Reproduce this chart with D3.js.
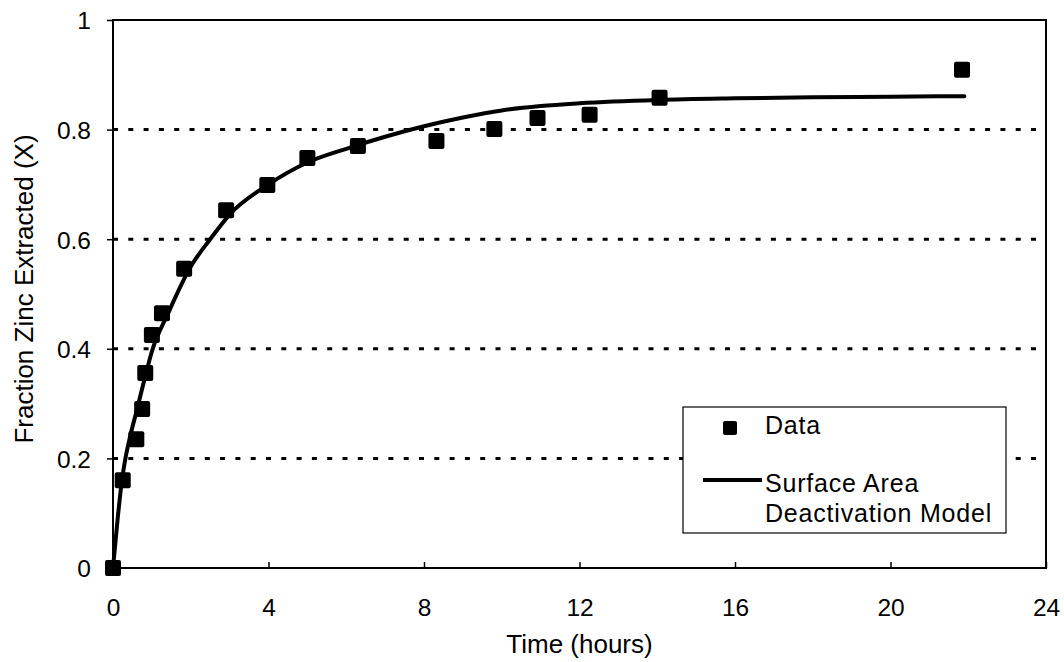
<!DOCTYPE html>
<html>
<head>
<meta charset="utf-8">
<script src="https://cdn.jsdelivr.net/npm/d3@7"></script>
<style>
  body { margin: 0; background: #fff; }
  text { font-family: "Liberation Sans", Arial, sans-serif; fill: #000; }
</style>
</head>
<body>
<svg id="chart" width="1064" height="662"></svg>
<script>
// measured data points (hours, fraction extracted)
var dataTime = [0, 0.25, 0.6, 0.75, 0.83, 1.0, 1.26, 1.83, 2.91, 3.97, 5.0, 6.3, 8.32, 9.81, 10.92, 12.26, 14.06, 21.84];
var dataX    = [0, 0.16, 0.235, 0.29, 0.356, 0.425, 0.465, 0.546, 0.653, 0.699, 0.748, 0.77, 0.779, 0.801, 0.821, 0.827, 0.858, 0.909];

// model curve
var modelTime = [0, 0.12, 0.23, 0.32, 0.44, 0.62, 0.83, 1.0, 1.42, 2, 2.5, 3, 4, 5, 6, 7, 8, 9, 10, 11, 12, 14, 16, 18, 20, 21.9];
var modelX    = [0, 0.09, 0.16, 0.2, 0.24, 0.29, 0.35, 0.395, 0.465, 0.55, 0.6, 0.645, 0.70, 0.74, 0.765, 0.787, 0.806, 0.822, 0.835, 0.843, 0.848, 0.854, 0.857, 0.859, 0.86, 0.861];

var xTicks = [0, 4, 8, 12, 16, 20, 24];
var yTicks = [0, 0.2, 0.4, 0.6, 0.8, 1];
var gridTicks = [0.2, 0.4, 0.6, 0.8];

var svg = d3.select("#chart"),
    margin = {top: 20, left: 113, bottom: 94, right: 18},
    width = +svg.attr("width"),
    height = +svg.attr("height");

var x = d3.scaleLinear().domain([0, 24]).range([margin.left, width - margin.right]);
var y = d3.scaleLinear().domain([0, 1]).range([height - margin.bottom, margin.top]);

// dotted gridlines
svg.append("g").selectAll("line")
    .data(gridTicks)
    .enter().append("line")
    .attr("x1", x(0)).attr("x2", x(24))
    .attr("y1", d => y(d)).attr("y2", d => y(d))
    .attr("stroke", "#000")
    .attr("stroke-width", 3)
    .attr("stroke-dasharray", "5,10.3");

// frame
svg.append("rect")
    .attr("x", x(0)).attr("y", y(1))
    .attr("width", x(24) - x(0)).attr("height", y(0) - y(1))
    .attr("fill", "none").attr("stroke", "#000").attr("stroke-width", 2);

// axes
var xAxis = svg.append("g")
    .attr("transform", `translate(0,${y(0)})`)
    .call(d3.axisBottom(x).tickValues(xTicks).tickSize(-6).tickPadding(31).tickFormat(d3.format("d")));
var yAxis = svg.append("g")
    .attr("transform", `translate(${x(0)},0)`)
    .call(d3.axisLeft(y).tickValues(yTicks).tickSize(6).tickPadding(16).tickFormat(d => d));

[xAxis, yAxis].forEach(function(a) {
    a.select(".domain").remove();
    a.selectAll(".tick line").attr("stroke", "#000").attr("stroke-width", 1.5);
    a.selectAll(".tick text").style("font-size", "24.5px").attr("fill", "#000");
});
yAxis.selectAll(".tick text").attr("dy", "0.36em");

// model line
var line = d3.line()
    .x((d, i) => x(modelTime[i]))
    .y(d => y(d))
    .curve(d3.curveMonotoneX);

svg.append("path")
    .datum(modelX)
    .attr("d", line)
    .attr("fill", "none")
    .attr("stroke", "#000")
    .attr("stroke-width", 4)
    .attr("stroke-linecap", "round");

// data squares
svg.append("g").selectAll("rect")
    .data(dataX)
    .enter().append("rect")
    .attr("x", (d, i) => x(dataTime[i]) - 8)
    .attr("y", d => y(d) - 8)
    .attr("width", 16).attr("height", 16)
    .attr("rx", 2)
    .attr("fill", "#000");

// legend
var legend = svg.append("g");
legend.append("rect")
    .attr("x", 683).attr("y", 407)
    .attr("width", 323).attr("height", 126)
    .attr("fill", "#fff").attr("stroke", "#000").attr("stroke-width", 1.2);
legend.append("rect")
    .attr("x", 723).attr("y", 421).attr("width", 14).attr("height", 14)
    .attr("rx", 2).attr("fill", "#000");
legend.append("line")
    .attr("x1", 703).attr("x2", 762).attr("y1", 480).attr("y2", 480)
    .attr("stroke", "#000").attr("stroke-width", 4);
var legendText = [["Data", 434], ["Surface Area", 492], ["Deactivation Model", 522]];
legend.selectAll("text.lbl")
    .data(legendText)
    .enter().append("text")
    .attr("class", "lbl")
    .attr("x", 765).attr("y", d => d[1])
    .style("font-size", "25px")
    .style("letter-spacing", "0.8px")
    .text(d => d[0]);

// axis titles
svg.append("text")
    .attr("x", (x(0) + x(24)) / 2).attr("y", 653)
    .attr("text-anchor", "middle")
    .style("font-size", "26px")
    .text("Time (hours)");

svg.append("text")
    .attr("transform", `translate(33,289) rotate(-90)`)
    .attr("text-anchor", "middle")
    .style("font-size", "26px")
    .text("Fraction Zinc Extracted (X)");
</script>
</body>
</html>
